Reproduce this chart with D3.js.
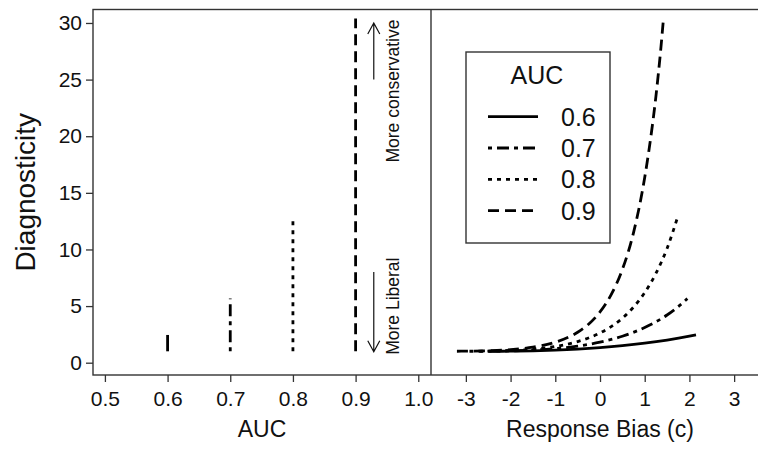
<!DOCTYPE html>
<html>
<head>
<meta charset="utf-8">
<script src="https://cdn.jsdelivr.net/npm/d3@7"></script>
<style>
body { margin: 0; background: #fff; }
text { font-family: "Liberation Sans", Arial, sans-serif; fill: #111; }
</style>
</head>
<body>
<svg id="chart" width="758" height="449"></svg>
<script>
// values
var aucLevels = ['0.6', '0.7', '0.8', '0.9'];
var aucTicks = [0.5, 0.6, 0.7, 0.8, 0.9, 1.0];
var diagTicks = [0, 5, 10, 15, 20, 25, 30];
var biasTicks = [-3, -2, -1, 0, 1, 2, 3];

var bias06 = [-2.5, -2, -1.5, -1, -0.5, 0, 0.5, 1, 1.5, 2, 2.147];
var diag06 = [1.0065, 1.020, 1.0515, 1.109, 1.2005, 1.331, 1.505, 1.727, 2.002, 2.338, 2.45];

var bias07 = [-2.7, -2.5, -2, -1.5, -1, -0.5, 0, 0.5, 1, 1.5, 1.75, 1.955];
var diag07 = [1.009, 1.015, 1.045, 1.113, 1.244, 1.466, 1.815, 2.338, 3.107, 4.215, 4.95, 5.66];

var bias08 = [-2.92, -2.5, -2, -1.5, -1, -0.5, 0, 0.25, 0.5, 0.75, 1, 1.25, 1.5, 1.73];
var diag08 = [1.010, 1.028, 1.082, 1.201, 1.437, 1.868, 2.625, 3.19, 3.93, 4.91, 6.19, 7.88, 10.09, 12.78];

var bias09 = [-3.2, -3, -2.5, -2, -1.5, -1, -0.5, -0.25, 0, 0.25, 0.5, 0.75, 1, 1.1, 1.25, 1.35, 1.42];
var diag09 = [1.011, 1.018, 1.058, 1.157, 1.371, 1.808, 2.687, 3.42, 4.48, 6.01, 8.23, 11.49, 16.35, 18.9, 23.5, 27.3, 30.4];

var series = [
    { auc: '0.6', c: bias06, d: diag06 },
    { auc: '0.7', c: bias07, d: diag07 },
    { auc: '0.8', c: bias08, d: diag08 },
    { auc: '0.9', c: bias09, d: diag09 }
];

var dashes = { '0.6': null, '0.7': '4,5,12,5', '0.8': '4,5', '0.9': '11,6' };

var svg = d3.select('#chart');

var plotTop = 9.5, plotBottom = 375, plotLeft = 93, plotMid = 431, plotRight = 769;
var lineW = 2.8;

var y = d3.scaleLinear().domain([-1.086, 31.19]).range([plotBottom, plotTop]);
var xAuc = d3.scaleLinear().domain([0.481, 1.0203]).range([plotLeft, plotMid]);
var xBias = d3.scaleLinear().domain([-3.78, 3.78]).range([plotMid, plotRight]);

function styleAxis(g) {
    g.select('.domain').remove();
    g.selectAll('.tick line').attr('stroke', '#333').attr('stroke-width', 1.3);
    g.selectAll('.tick text').attr('font-size', 21).attr('fill', '#111');
}

// axes
svg.append('g')
    .attr('transform', 'translate(' + plotLeft + ',0)')
    .call(d3.axisLeft(y).tickValues(diagTicks).tickSize(7).tickPadding(4))
    .call(styleAxis);

svg.append('g')
    .attr('transform', 'translate(0,' + plotBottom + ')')
    .call(d3.axisBottom(xAuc).tickValues(aucTicks).tickFormat(d3.format('.1f')).tickSize(7).tickPadding(9))
    .call(styleAxis);

svg.append('g')
    .attr('transform', 'translate(0,' + plotBottom + ')')
    .call(d3.axisBottom(xBias).tickValues(biasTicks).tickFormat(function (d) { return d.toString(); }).tickSize(7).tickPadding(9))
    .call(styleAxis);

// frame
svg.append('rect')
    .attr('x', plotLeft).attr('y', plotTop)
    .attr('width', plotRight - plotLeft).attr('height', plotBottom - plotTop)
    .attr('fill', 'none').attr('stroke', '#333').attr('stroke-width', 1.4);

svg.append('line')
    .attr('x1', plotMid).attr('x2', plotMid).attr('y1', plotTop).attr('y2', plotBottom)
    .attr('stroke', '#333').attr('stroke-width', 1.4);

// left panel: range of diagnosticity for each AUC
svg.append('g').selectAll('line').data(series).enter().append('line')
    .attr('x1', function (s) { return xAuc(+s.auc); })
    .attr('x2', function (s) { return xAuc(+s.auc); })
    .attr('y1', function (s) { return y(d3.min(s.d)); })
    .attr('y2', function (s) { return y(d3.max(s.d)); })
    .attr('stroke', '#000')
    .attr('stroke-width', lineW)
    .attr('stroke-dasharray', function (s) { return dashes[s.auc]; });

// right panel: diagnosticity against response bias
var line = d3.line()
    .x(function (p) { return xBias(p[0]); })
    .y(function (p) { return y(p[1]); })
    .curve(d3.curveMonotoneX);

svg.append('g').selectAll('path').data(series).enter().append('path')
    .attr('d', function (s) { return line(d3.zip(s.c, s.d)); })
    .attr('fill', 'none')
    .attr('stroke', '#000')
    .attr('stroke-width', lineW)
    .attr('stroke-dasharray', function (s) { return dashes[s.auc]; });

// arrows and notes
var arrowX = xAuc(0.929);
var arrows = [[25, 30], [8, 0.97]];
arrows.forEach(function (a) {
    var y0 = y(a[0]), y1 = y(a[1]);
    var dir = y1 < y0 ? 1 : -1;
    svg.append('path')
        .attr('d', 'M' + arrowX + ',' + y0 + 'L' + arrowX + ',' + y1 +
              'M' + (arrowX - 6) + ',' + (y1 + dir * 11) + 'L' + arrowX + ',' + y1 + 'L' + (arrowX + 6) + ',' + (y1 + dir * 11))
        .attr('fill', 'none').attr('stroke', '#111').attr('stroke-width', 1.2);
});

svg.append('text')
    .attr('transform', 'translate(399,' + y(30.3) + ') rotate(-90)')
    .attr('text-anchor', 'end').attr('font-size', 17.5)
    .text('More conservative');

svg.append('text')
    .attr('transform', 'translate(399,' + y(0.7) + ') rotate(-90)')
    .attr('text-anchor', 'start').attr('font-size', 17.5)
    .text('More Liberal');

// titles
svg.append('text')
    .attr('x', (plotLeft + plotMid) / 2).attr('y', 437)
    .attr('text-anchor', 'middle').attr('font-size', 23)
    .text('AUC');

svg.append('text')
    .attr('x', (plotMid + plotRight) / 2).attr('y', 437)
    .attr('text-anchor', 'middle').attr('font-size', 23)
    .text('Response Bias (c)');

svg.append('text')
    .attr('transform', 'translate(35,' + (plotTop + plotBottom) / 2 + ') rotate(-90)')
    .attr('text-anchor', 'middle').attr('font-size', 28)
    .text('Diagnosticity');

// legend
var legend = svg.append('g').attr('transform', 'translate(466,52)');

legend.append('rect')
    .attr('width', 144).attr('height', 191)
    .attr('fill', '#fff').attr('stroke', '#333').attr('stroke-width', 1.4);

legend.append('text')
    .attr('x', 71).attr('y', 32)
    .attr('text-anchor', 'middle').attr('font-size', 25)
    .text('AUC');

var rows = legend.selectAll('g.row').data(aucLevels).enter().append('g')
    .attr('class', 'row')
    .attr('transform', function (d, i) { return 'translate(0,' + (64.7 + i * 31.3) + ')'; });

rows.append('line')
    .attr('x1', 22).attr('x2', 72)
    .attr('stroke', '#000').attr('stroke-width', lineW)
    .attr('stroke-dasharray', function (d) { return dashes[d]; });

rows.append('text')
    .attr('x', 95).attr('dy', '0.36em')
    .attr('font-size', 25)
    .text(function (d) { return d; });
</script>
</body>
</html>
